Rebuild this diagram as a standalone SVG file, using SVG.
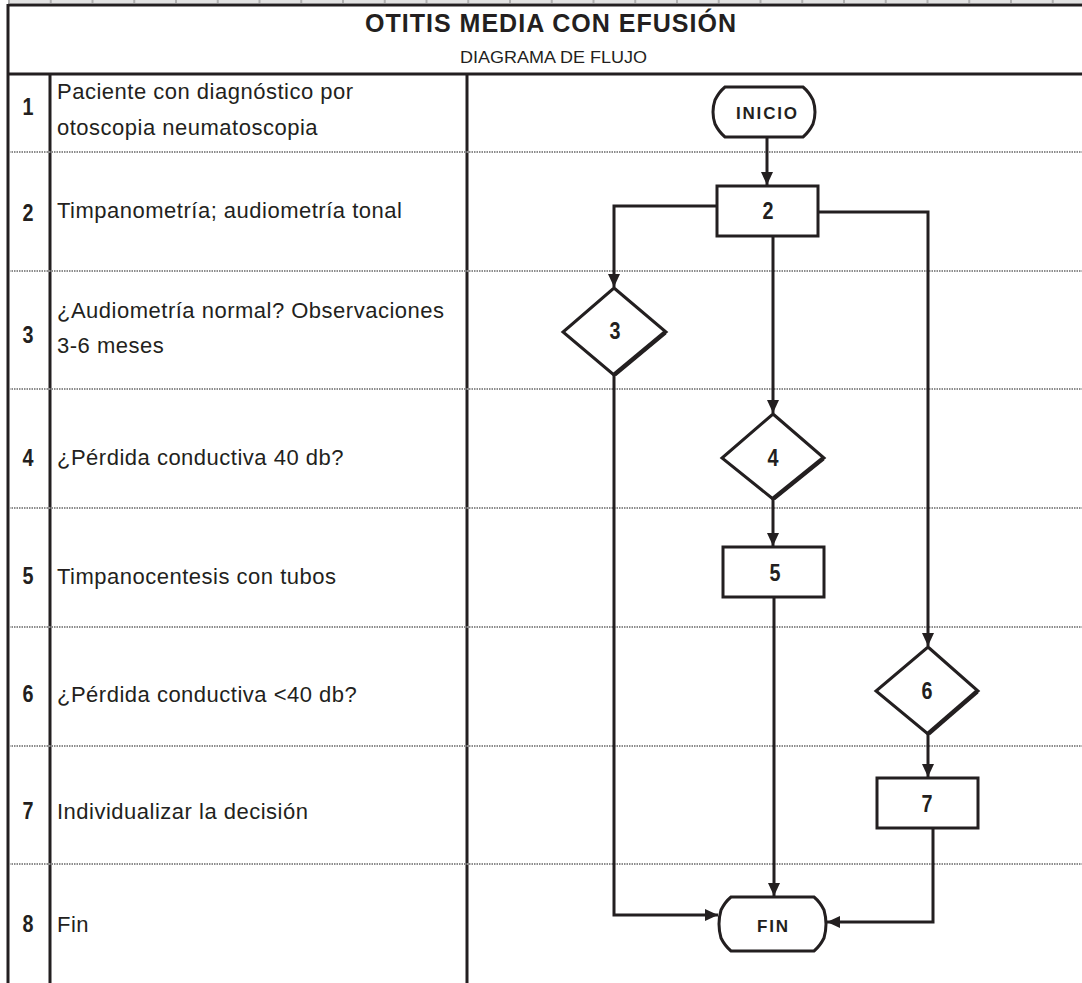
<svg xmlns="http://www.w3.org/2000/svg" width="1082" height="983" viewBox="0 0 1082 983">
<defs>
<marker id="ah" markerUnits="userSpaceOnUse" markerWidth="14" markerHeight="14" viewBox="0 0 14 14" refX="13" refY="7" orient="auto">
<path d="M0,1 L13,7 L0,13 Z" fill="#231f20"/>
</marker>
<style>
.grid{stroke:#231f20;stroke-width:3;fill:none}
.sep{stroke:#8c8c8c;stroke-width:2;stroke-dasharray:1.5 1;fill:none}
.txt{font-family:"Liberation Sans",Arial,sans-serif;font-size:22px;letter-spacing:0.5px;fill:#231f20}
.num{font-family:"Liberation Sans",Arial,sans-serif;font-size:23px;font-weight:bold;fill:#231f20;text-anchor:middle}
.shape{stroke:#231f20;stroke-width:3;fill:#fff}
.thick{stroke:#231f20;stroke-width:4.5;stroke-linecap:butt}
.term{font-family:"Liberation Sans",Arial,sans-serif;font-size:17px;font-weight:bold;fill:#231f20}
.conn{stroke:#231f20;stroke-width:3;fill:none}
</style>
</defs>
<rect width="1082" height="983" fill="#fff"/>
<g id="table">
<line x1="8" y1="1.5" x2="1082" y2="1.5" stroke="#e2e2e2" stroke-width="3"/>
<line x1="8" y1="1.5" x2="1082" y2="1.5" stroke="#b0b0b0" stroke-width="3" stroke-dasharray="2 39.75"/>
<line class="grid" x1="8" y1="5" x2="1082" y2="5"/>
<line class="grid" x1="8" y1="74" x2="1082" y2="74"/>
<line class="grid" x1="8" y1="4" x2="8" y2="983"/>
<line class="grid" x1="50" y1="74" x2="50" y2="983"/>
<line class="grid" x1="467" y1="74" x2="467" y2="983"/>
<line class="sep" x1="9" y1="152" x2="1082" y2="152"/>
<line class="sep" x1="9" y1="271" x2="1082" y2="271"/>
<line class="sep" x1="9" y1="389" x2="1082" y2="389"/>
<line class="sep" x1="9" y1="508" x2="1082" y2="508"/>
<line class="sep" x1="9" y1="627" x2="1082" y2="627"/>
<line class="sep" x1="9" y1="746" x2="1082" y2="746"/>
<line class="sep" x1="9" y1="864" x2="1082" y2="864"/>
<text x="365" y="32" textLength="372" lengthAdjust="spacingAndGlyphs" font-family="'Liberation Sans',Arial,sans-serif" font-size="25" font-weight="bold" fill="#231f20" letter-spacing="1">OTITIS  MEDIA  CON  EFUSIÓN</text>
<text x="460" y="63" textLength="187" lengthAdjust="spacingAndGlyphs" font-family="'Liberation Sans',Arial,sans-serif" font-size="16" fill="#231f20">DIAGRAMA DE FLUJO</text>
</g>
<g id="row1"><text class="num" x="28" y="115" textLength="11" lengthAdjust="spacingAndGlyphs">1</text><text class="txt" x="57" y="99">Paciente con diagnóstico por</text><text class="txt" x="57" y="135">otoscopia neumatoscopia</text></g>
<g id="row2"><text class="num" x="28" y="221" textLength="11" lengthAdjust="spacingAndGlyphs">2</text><text class="txt" x="57" y="218">Timpanometría; audiometría tonal</text></g>
<g id="row3"><text class="num" x="28" y="343" textLength="11" lengthAdjust="spacingAndGlyphs">3</text><text class="txt" x="57" y="318">¿Audiometría normal? Observaciones</text><text class="txt" x="57" y="353">3-6 meses</text></g>
<g id="row4"><text class="num" x="28" y="466" textLength="11" lengthAdjust="spacingAndGlyphs">4</text><text class="txt" x="57" y="465">¿Pérdida conductiva 40 db?</text></g>
<g id="row5"><text class="num" x="28" y="584" textLength="11" lengthAdjust="spacingAndGlyphs">5</text><text class="txt" x="57" y="584">Timpanocentesis con tubos</text></g>
<g id="row6"><text class="num" x="28" y="702" textLength="11" lengthAdjust="spacingAndGlyphs">6</text><text class="txt" x="57" y="702">¿Pérdida conductiva &lt;40 db?</text></g>
<g id="row7"><text class="num" x="28" y="819" textLength="11" lengthAdjust="spacingAndGlyphs">7</text><text class="txt" x="57" y="819">Individualizar la decisión</text></g>
<g id="row8"><text class="num" x="28" y="932" textLength="11" lengthAdjust="spacingAndGlyphs">8</text><text class="txt" x="57" y="932">Fin</text></g>
<g id="connectors">
<line class="conn" x1="767" y1="137" x2="767" y2="185" marker-end="url(#ah)"/>
<polyline class="conn" points="717,206 614,206 614,287" marker-end="url(#ah)"/>
<polyline class="conn" points="818,212 928,212 928,646" marker-end="url(#ah)"/>
<line class="conn" x1="773" y1="236" x2="773" y2="413" marker-end="url(#ah)"/>
<line class="conn" x1="773" y1="499" x2="773" y2="546" marker-end="url(#ah)"/>
<line class="conn" x1="774" y1="597" x2="774" y2="896" marker-end="url(#ah)"/>
<polyline class="conn" points="614,375 614,915 718,915" marker-end="url(#ah)"/>
<line class="conn" x1="928" y1="734" x2="928" y2="777" marker-end="url(#ah)"/>
<polyline class="conn" points="933,828 933,922 827,922" marker-end="url(#ah)"/>
</g>
<g id="inicio">
<path class="shape" d="M725,87 H803 Q809,92 813,100 Q815,106 815,112 Q815,118 813,124 Q809,132 803,137 H725 Q719,132 715,124 Q713,118 713,112 Q713,106 715,100 Q719,92 725,87 Z"/>
<text class="term" x="736" y="119" textLength="61" lengthAdjust="spacing">INICIO</text>
</g>
<g id="n2"><rect class="shape" x="717" y="186" width="101" height="50"/><text class="num" x="768" y="219" textLength="11" lengthAdjust="spacingAndGlyphs">2</text></g>
<g id="n3"><path class="shape" d="M614,288 L666,332 L614,375 L563,332 Z"/><line class="thick" x1="665" y1="332.5" x2="614.5" y2="374.5"/><text class="num" x="615" y="339" textLength="11" lengthAdjust="spacingAndGlyphs">3</text></g>
<g id="n4"><path class="shape" d="M773,414 L824,458 L773,499 L722,458 Z"/><line class="thick" x1="823" y1="458.5" x2="773.5" y2="498.5"/><text class="num" x="773" y="466" textLength="11" lengthAdjust="spacingAndGlyphs">4</text></g>
<g id="n5"><rect class="shape" x="723" y="547" width="101" height="50"/><text class="num" x="775" y="581" textLength="11" lengthAdjust="spacingAndGlyphs">5</text></g>
<g id="n6"><path class="shape" d="M928,647 L978,691 L928,734 L876,691 Z"/><line class="thick" x1="977" y1="691.5" x2="928.5" y2="733.5"/><text class="num" x="927" y="699" textLength="11" lengthAdjust="spacingAndGlyphs">6</text></g>
<g id="n7"><rect class="shape" x="877" y="778" width="101" height="50"/><text class="num" x="927" y="812" textLength="11" lengthAdjust="spacingAndGlyphs">7</text></g>
<g id="fin">
<path class="shape" d="M731,897 H814 Q820,902 824,910 Q826,917 826,924 Q826,931 824,938 Q820,946 814,951 H731 Q725,946 721,938 Q719,931 719,924 Q719,917 721,910 Q725,902 731,897 Z"/>
<text class="term" x="757" y="932" textLength="31" lengthAdjust="spacing">FIN</text>
</g>
</svg>
